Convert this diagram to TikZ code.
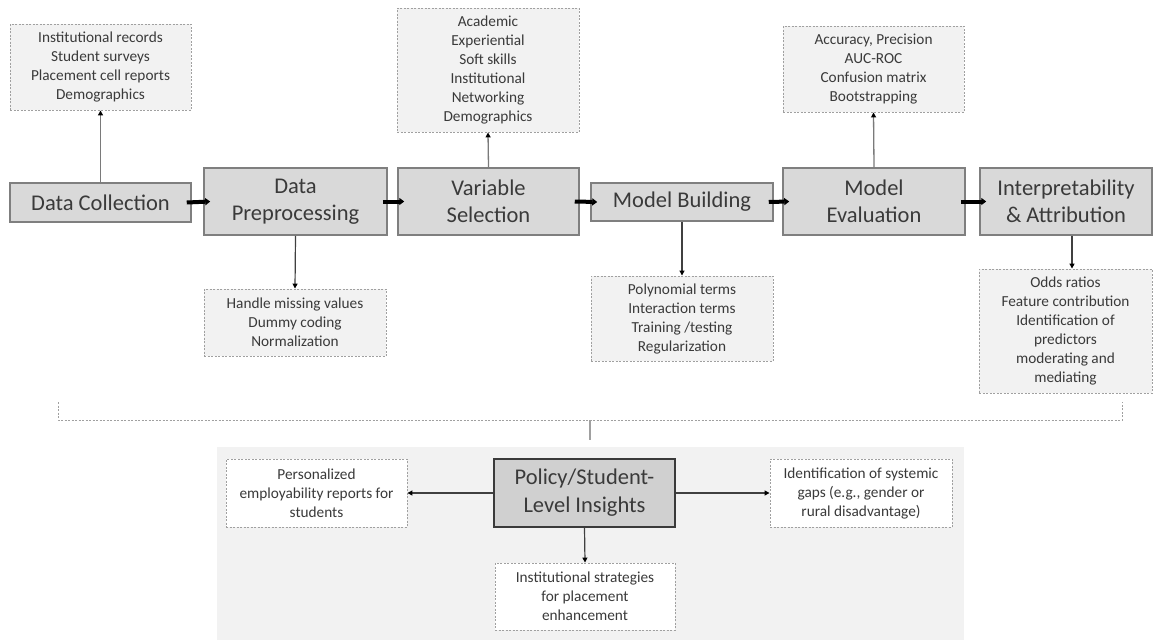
\documentclass[tikz,border=0pt]{standalone}
\usepackage{fontspec}
\setmainfont{Carlito}
\usetikzlibrary{arrows.meta}
\definecolor{txt}{HTML}{3A3A3A}
\definecolor{mainfill}{HTML}{D9D9D9}
\definecolor{mainline}{HTML}{7F7F7F}
\definecolor{detfill}{HTML}{F2F2F2}
\definecolor{detline}{HTML}{A0A0A0}
\definecolor{polfill}{HTML}{D0D0D0}
\definecolor{polline}{HTML}{3A3A3A}
\definecolor{panel}{HTML}{F2F2F2}
\definecolor{conn}{HTML}{7A7A7A}
\begin{document}
\begin{tikzpicture}[x=1pt,y=-1pt,
  mainbox/.style={draw=mainline, fill=mainfill, line width=1.5pt, inner sep=0pt, align=center,
     text=txt, font=\fontsize{22.5}{27}\selectfont},
  detbox/.style={draw=detline, fill=detfill, line width=0.9pt, dash pattern=on 2pt off 1.5pt,
     inner sep=0pt, align=center, text=txt, font=\fontsize{15.3}{19}\selectfont},
  outbox/.style={detbox, fill=white},
  polbox/.style={draw=polline, fill=polfill, line width=2pt, inner sep=0pt, align=center,
     text=txt, font=\fontsize{22.5}{28}\selectfont},
  flow/.style={line width=4pt, black, -{Triangle[length=5pt,width=7pt]}},
  link/.style={line width=1.3pt, conn, -{Triangle[length=5pt,width=5pt,fill=black,color=black]}},
  dlink/.style={line width=1.2pt, black!75, -{Triangle[length=5pt,width=5pt,fill=black,color=black]}},
  bracket/.style={draw=detline, line width=1pt, dash pattern=on 2pt off 1.5pt}
]
\useasboundingbox (0,0) rectangle (1155,640);
\fill[white] (0,0) rectangle (1155,640);
% panel
\fill[panel] (217,447) rectangle (964,640);

% main flow
\node[mainbox, minimum width=181pt, minimum height=39pt] (dc) at (100.5,202.5) {Data Collection};
\node[mainbox, minimum width=183pt, minimum height=67pt] (dp) at (295.5,201.5) {Data\\Preprocessing};
\node[mainbox, minimum width=181pt, minimum height=67pt] (vs) at (488.5,201.5) {Variable\\Selection};
\node[mainbox, minimum width=182pt, minimum height=38pt] (mb) at (682,202) {Model Building};
\node[mainbox, minimum width=182pt, minimum height=67pt] (me) at (874,201.5) {Model\\Evaluation};
\node[mainbox, minimum width=172pt, minimum height=67pt] (ia) at (1066,201.5) {Interpretability\\\& Attribution};

% details
\node[detbox, minimum width=181pt, minimum height=86pt] (dcd) at (100.5,67) {Institutional records\\Student surveys\\Placement cell reports\\Demographics};
\node[detbox, minimum width=182pt, minimum height=124pt] (vsd) at (488,70) {Academic\\Experiential\\Soft skills\\Institutional\\Networking\\Demographics};
\node[detbox, minimum width=181pt, minimum height=86pt] (med) at (873.5,69) {Accuracy, Precision\\AUC-ROC\\Confusion matrix\\Bootstrapping};
\node[detbox, minimum width=182pt, minimum height=67pt] (dpd) at (295,322.5) {Handle missing values\\Dummy coding\\Normalization};
\node[detbox, minimum width=182pt, minimum height=85pt] (mbd) at (682,318.5) {Polynomial terms\\Interaction terms\\Training /testing\\Regularization};
\node[detbox, minimum width=173pt, minimum height=124pt] (iad) at (1065.5,331) {Odds ratios\\Feature contribution\\Identification of\\predictors\\moderating and\\mediating};

% flow arrows
\draw[flow] ([xshift=-5pt]dc.east) -- ([xshift=7pt]dp.west);
\draw[flow] ([xshift=-5pt]dp.east) -- ([xshift=7pt]vs.west);
\draw[flow] ([xshift=-5pt]vs.east) -- ([xshift=7pt]mb.west);
\draw[flow] ([xshift=-5pt]mb.east) -- ([xshift=7pt]me.west);
\draw[flow] ([xshift=-5pt]me.east) -- ([xshift=7pt]ia.west);

% detail connectors
\draw[link] (dc.north) -- (dcd.south);
\draw[link] (vs.north) -- (vsd.south);
\draw[link] (me.north) -- (med.south);
\draw[dlink] (dp.south) -- (dpd.north);
\draw[dlink] (mb.south) -- (mbd.north);
\draw[dlink] ([xshift=6pt]ia.south) -- ([xshift=6.5pt]iad.north);

% bracket
\coordinate (bl) at (58,402);
\coordinate (br) at (1122,402);
\coordinate (bm) at (590,420);
\coordinate (bt) at (590,440);
\draw[bracket] (bl) -- (58,420) -- (1122,420) -- (br);
\draw[detline, line width=1.2pt] (bm) -- (bt);

% bottom panel
\node[polbox, minimum width=181pt, minimum height=68pt] (pol) at (584.5,493) {Policy/Student-\\Level Insights};
\node[outbox, minimum width=181pt, minimum height=68pt] (per) at (316.5,493) {Personalized\\employability reports for\\students};
\node[outbox, minimum width=182pt, minimum height=68pt] (idf) at (861,493) {Identification of systemic\\gaps (e.g., gender or\\rural disadvantage)};
\node[outbox, minimum width=180pt, minimum height=67pt] (ins) at (585,596.5) {Institutional strategies\\for placement\\enhancement};

\draw[dlink] (pol.west) -- (per.east);
\draw[dlink] (pol.east) -- (idf.west);
\draw[dlink] (pol.south) -- (ins.north);
\end{tikzpicture}
\end{document}
